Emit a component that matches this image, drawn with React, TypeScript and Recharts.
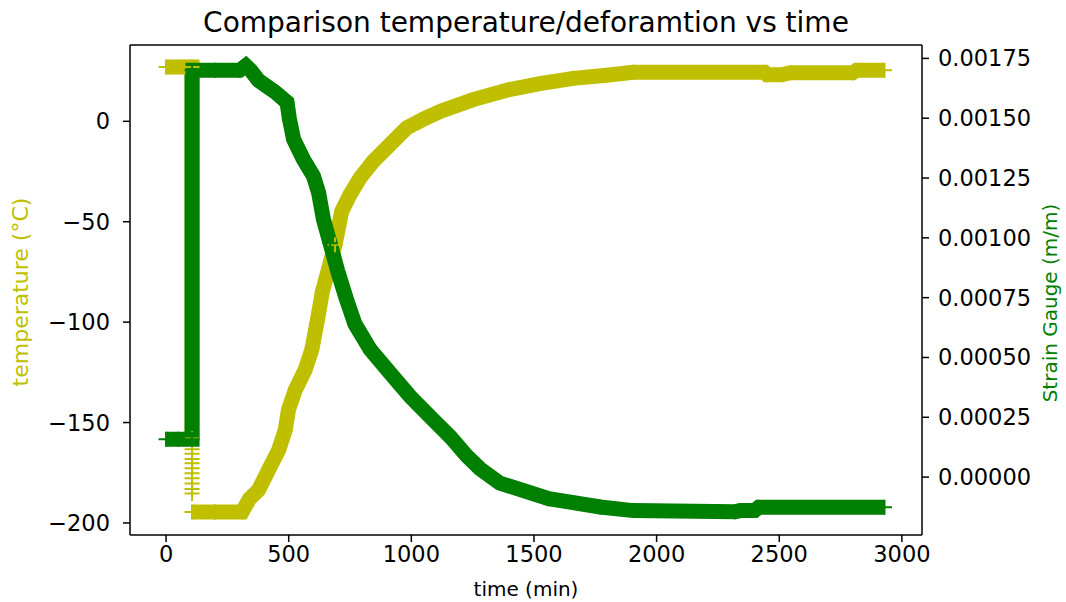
import {
  ComposedChart,
  Line,
  Scatter,
  XAxis,
  YAxis,
  ReferenceLine,
} from 'recharts';

// temperature series (yellow); the null entry breaks the line where the drop goes sparse
const tempTime = [
  0, 40, 75, 106, 106, 106, 106, 200, 310, 340, 377, 418, 459, 486, 499, 527, 567, 594, 615,
  637, 689, 716, 750, 791, 845, 913, 981, 1056, 1120, 1252, 1388, 1524, 1660, 1796, 1904,
  2440, 2450, 2510, 2545, 2800, 2815, 2929,
];
const tempValues = [
  27, 27, 27, 27, -158, null, -194.5, -194.5, -194.5, -188, -183.6, -173.6, -163.7, -153.7,
  -143.7, -133.7, -123.8, -113.8, -100.4, -85, -61.5, -44.9, -36.5, -28.2, -19.9, -11.6,
  -3.3, 1.5, 5, 10.8, 15.5, 18.8, 21.4, 22.9, 24.4, 24.4, 23.2, 23.2, 24.2, 24.2, 25.4, 25.4,
];

// single '+' markers visible on the lower part of the temperature drop
const dropTime = [106, 106, 106, 106, 106, 106, 106, 106, 106, 106];
const dropValues = [-163.3, -165.6, -168.1, -170.3, -172.8, -175.3, -177.8, -180.3, -183.1, -185.3];

// strain gauge series (green)
const strainTime = [
  0, 50, 106, 106, 200, 300, 325, 345, 377, 445, 493, 503, 520, 560, 601, 622, 642, 669, 700,
  735, 770, 832, 913, 995, 1090, 1160, 1225, 1280, 1360, 1560, 1770, 1904, 2320, 2340, 2400,
  2416, 2929,
];
const strainValues = [
  0.000158, 0.000158, 0.000158, 0.0017, 0.0017, 0.0017, 0.00172, 0.0017, 0.001658, 0.001609,
  0.001567, 0.001497, 0.001412, 0.001328, 0.001258, 0.001188, 0.001075, 0.000977, 0.00086,
  0.000745, 0.00064, 0.000534, 0.000436, 0.000337, 0.000239, 0.000167, 0.00009, 0.000035,
  -0.000025, -0.00009, -0.000125, -0.00014, -0.000145, -0.00014, -0.00014, -0.000126, -0.000126,
];

const timeTicks = [0, 500, 1000, 1500, 2000, 2500, 3000];
const tempTicks = [-200, -150, -100, -50, 0];
const strainTicks = [0, 0.00025, 0.0005, 0.00075, 0.001, 0.00125, 0.0015, 0.00175];

const tempData = tempTime.map((t, i) => ({ t, temp: tempValues[i] }));
const dropData = dropTime.map((t, i) => ({ t, temp: dropValues[i] }));
const strainData = strainTime.map((t, i) => ({ t, strain: strainValues[i] }));

const YELLOW = '#bfbf00';
const GREEN = '#008000';
const FONT = "'DejaVu Sans', sans-serif";
const tickStyle = { fontSize: 22.5, fontFamily: FONT, fill: '#000' };

const plusPath = (cx: number, cy: number) =>
  `M${cx - 7.5},${cy}h15M${cx},${cy - 7.5}v15`;

const plusDot = (color: string) => (props: any) => {
  const { cx, cy, index } = props;
  if (cx == null || cy == null || props.value == null) return <g key={`p-${index}`} />;
  return (
    <path key={`p-${index}`} d={plusPath(cx, cy)} stroke={color} strokeWidth={2} fill="none" />
  );
};

const plusShape = (color: string) => (props: any) => (
  <path d={plusPath(props.cx, props.cy)} stroke={color} strokeWidth={2} fill="none" />
);

const minus = (v: number) => (v < 0 ? `\u2212${Math.abs(v)}` : `${v}`);

export default function App() {
  return (
    <div style={{ position: 'absolute', left: 0, top: 0, width: 1066, height: 602, background: '#fff' }}>
      <ComposedChart width={1066} height={602} margin={{ top: 45, right: 0, bottom: 0, left: 0 }}>
        <XAxis
          type="number"
          dataKey="t"
          domain={[-147, 3082]}
          ticks={timeTicks}
          allowDataOverflow
          height={67}
          tickSize={7}
          tickMargin={4}
          tick={tickStyle}
          axisLine={{ stroke: '#000', strokeWidth: 1.5 }}
          tickLine={{ stroke: '#000', strokeWidth: 1.5 }}
        />
        <YAxis
          yAxisId="temp"
          type="number"
          domain={[-206, 38]}
          ticks={tempTicks}
          allowDataOverflow
          width={130}
          tickSize={7}
          tickMargin={13}
          tick={tickStyle}
          tickFormatter={minus}
          axisLine={{ stroke: '#000', strokeWidth: 1.5 }}
          tickLine={{ stroke: '#000', strokeWidth: 1.5 }}
        />
        <YAxis
          yAxisId="strain"
          orientation="right"
          type="number"
          domain={[-0.000242, 0.001806]}
          ticks={strainTicks}
          allowDataOverflow
          width={144}
          tickSize={7}
          tickMargin={9}
          tick={tickStyle}
          tickFormatter={(v: number) => v.toFixed(5)}
          axisLine={{ stroke: '#000', strokeWidth: 1.5 }}
          tickLine={{ stroke: '#000', strokeWidth: 1.5 }}
        />
        <ReferenceLine yAxisId="temp" y={38} stroke="#000" strokeWidth={1.5} />
        <Line
          yAxisId="temp"
          data={tempData}
          dataKey="temp"
          type="linear"
          stroke={YELLOW}
          strokeWidth={15}
          strokeLinejoin="miter"
          dot={plusDot(YELLOW)}
          activeDot={false}
          isAnimationActive={false}
        />
        <Scatter
          yAxisId="temp"
          data={dropData}
          dataKey="temp"
          shape={plusShape(YELLOW)}
          isAnimationActive={false}
        />
        <Line
          yAxisId="strain"
          data={strainData}
          dataKey="strain"
          type="linear"
          stroke={GREEN}
          strokeWidth={15}
          strokeLinejoin="miter"
          dot={plusDot(GREEN)}
          activeDot={false}
          isAnimationActive={false}
        />
      </ComposedChart>
      <svg
        width={1066}
        height={602}
        style={{ position: 'absolute', left: 0, top: 0, pointerEvents: 'none' }}
        fontFamily={FONT}
      >
        <text x={526} y={32} textAnchor="middle" fontSize={28} fill="#000">
          Comparison temperature/deforamtion vs time
        </text>
        <text x={526} y={596} textAnchor="middle" fontSize={20} fill="#000">
          time (min)
        </text>
        <text
          x={28}
          y={292}
          textAnchor="middle"
          fontSize={22}
          fill={YELLOW}
          transform="rotate(-90 28 292)"
        >
          temperature (°C)
        </text>
        <text
          x={1057}
          y={303}
          textAnchor="middle"
          fontSize={20}
          fill={GREEN}
          transform="rotate(-90 1057 303)"
        >
          Strain Gauge (m/m)
        </text>
      </svg>
    </div>
  );
}
